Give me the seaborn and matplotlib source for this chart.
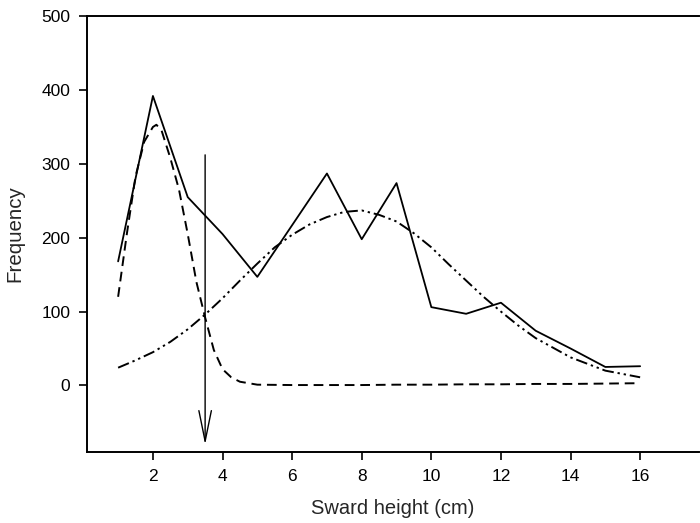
import numpy as np
import pandas as pd
import seaborn as sns
import matplotlib.pyplot as plt

# observed frequency per sward height class
heights = [1, 2, 3, 4, 5, 6, 7, 8, 9, 10, 11, 12, 13, 14, 15, 16]
observed = [168, 392, 255, 205, 147, 217, 287, 198, 274, 106, 97, 112, 74, 50, 25, 26]

# fitted component 1 (short sward)
comp1_x = [1.0, 1.25, 1.5, 1.75, 2.0, 2.1, 2.25, 2.5, 2.75, 3.0, 3.25, 3.5,
           3.75, 4.0, 4.25, 4.5, 5, 6, 7, 8, 9, 10, 11, 12, 13, 14, 15, 16]
comp1_y = [120, 205, 283, 330, 350, 353, 345, 308, 265, 205, 140, 92,
           48, 22, 11, 5, 1, 0.5, 0.5, 0.5, 1, 1, 1.5, 1.5, 2, 2, 2.5, 3]

# fitted component 2 (tall sward)
comp2_x = [1, 1.5, 2, 2.5, 3, 3.5, 4, 4.5, 5, 5.5, 6, 6.5, 7, 7.5, 8, 8.5,
           9, 9.5, 10, 10.5, 11, 11.5, 12, 12.5, 13, 14, 15, 16]
comp2_y = [24, 34, 45, 59, 76, 96, 118, 142, 165, 187, 204, 218, 228, 235, 237, 231,
           222, 206, 187, 164, 142, 120, 100, 81, 64, 38, 20, 11]

threshold = 3.5

sns.set_style("ticks")
plt.rcParams['font.family'] = ['Liberation Sans', 'DejaVu Sans']

fig = plt.figure(figsize=(7, 5.23), dpi=100)
ax = fig.add_axes([0.124, 0.136, 0.875, 0.833])

sns.lineplot(x=heights, y=observed, color="black", linewidth=1.3, ax=ax)
sns.lineplot(x=comp1_x, y=comp1_y, color="black", linewidth=1.4,
             linestyle=(0, (5, 3)), ax=ax)
sns.lineplot(x=comp2_x, y=comp2_y, color="black", linewidth=1.4,
             linestyle=(0, (6, 2, 1.2, 2, 1.2, 2)), ax=ax)

# threshold arrow
ax.annotate("", xy=(threshold, -84), xytext=(threshold, 316),
            arrowprops=dict(arrowstyle="->,head_length=2.2,head_width=0.45",
                            color="black", lw=1.0))

ax.set_xlim(0.1, 17.7)
ax.set_ylim(-90, 500)
ax.set_xticks(range(2, 17, 2))
ax.set_yticks(range(0, 501, 100))
ax.tick_params(labelsize=12.5, length=6, width=1.2, colors="black", pad=6)
ax.set_xlabel("Sward height (cm)", fontsize=14.5, labelpad=11)
ax.set_ylabel("Frequency", fontsize=14.8, labelpad=12)

for side in ["left", "bottom", "top"]:
    ax.spines[side].set_linewidth(1.4)
    ax.spines[side].set_color("black")
ax.spines["right"].set_visible(False)

fig.savefig("out.png", dpi=100)
